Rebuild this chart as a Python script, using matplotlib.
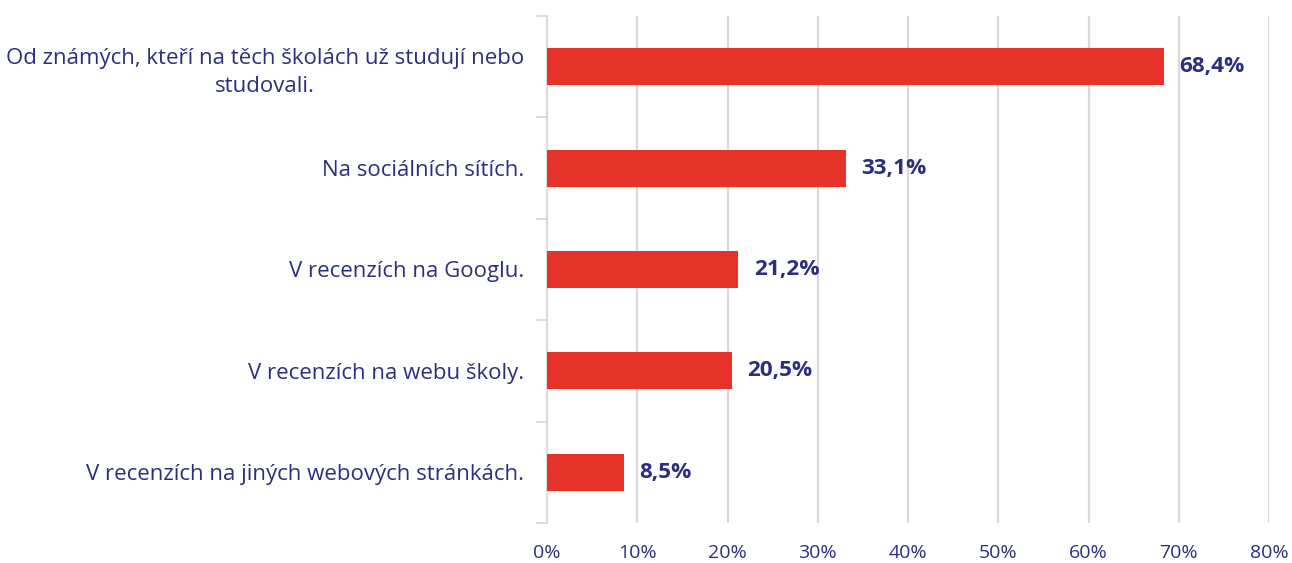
import numpy as np
import matplotlib.pyplot as plt
from matplotlib.ticker import FixedLocator

categories = [
    "Od známých, kteří na těch školách už studují nebo\nstudovali.",
    "Na sociálních sítích.",
    "V recenzích na Googlu.",
    "V recenzích na webu školy.",
    "V recenzích na jiných webových stránkách.",
]
values = [68.4, 33.1, 21.2, 20.5, 8.5]
value_labels = ["68,4%", "33,1%", "21,2%", "20,5%", "8,5%"]
xticks = [0, 10, 20, 30, 40, 50, 60, 70, 80]

RED = "#E5332A"
NAVY = "#2E2E80"
GRID = "#D9D9D9"

plt.rcParams['font.family'] = ['Open Sans', 'DejaVu Sans']

fig = plt.figure(figsize=(12.92, 5.63), dpi=100)
ax = fig.add_axes([547 / 1292, 1 - 523 / 563, (1269 - 547) / 1292, (523 - 16) / 563])

y = np.arange(len(categories))
ax.barh(y, values, height=0.365, color=RED, zorder=3)
ax.set_ylim(len(categories) - 0.5, -0.5)
ax.set_xlim(0, 80)

for yi, v, lab in zip(y, values, value_labels):
    ax.text(v + 1.7, yi, lab, va='center', ha='left', fontsize=16.2,
            fontweight='bold', color=NAVY)

# category labels
ax.set_yticks(y)
ax.set_yticklabels(categories, fontsize=16, color=NAVY, ha='right',
                   multialignment='center', linespacing=1.45)
ax.tick_params(axis='y', which='major', length=0, pad=16.5)

# boundary ticks on the y axis
ax.yaxis.set_minor_locator(FixedLocator(np.arange(-0.5, len(categories), 1.0)))
ax.tick_params(axis='y', which='minor', length=8, width=1.3, color=GRID, direction='out')

ax.set_xticks(xticks)
ax.set_xticklabels([f"{t}%" for t in xticks], fontsize=14, color=NAVY)
ax.tick_params(axis='x', length=0, pad=15)
ax.grid(axis='x', color=GRID, linewidth=1.6, zorder=0)

for s in ['top', 'right', 'bottom']:
    ax.spines[s].set_visible(False)
ax.spines['left'].set_color(GRID)
ax.spines['left'].set_linewidth(1.3)

fig.savefig("out.png", dpi=100)
